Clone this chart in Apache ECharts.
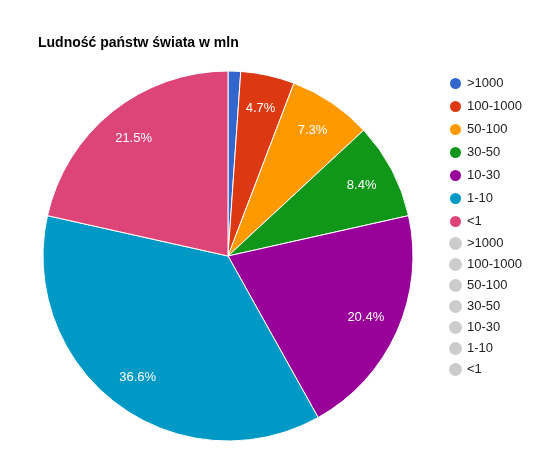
<!DOCTYPE html>
<html>
<head>
<meta charset="utf-8">
<script src="https://cdn.jsdelivr.net/npm/echarts@6/dist/echarts.min.js"></script>
<style>html,body{margin:0;padding:0;background:#fff}#main{width:550px;height:468px}</style>
</head>
<body>
<div id="main"></div>
<script>
var categories = ['>1000', '100-1000', '50-100', '30-50', '10-30', '1-10', '<1']
var values = [1.1, 4.7, 7.3, 8.4, 20.4, 36.6, 21.5]
var colors = ['#3366cc', '#dc3912', '#ff9900', '#109618', '#990099', '#0099c6', '#dd4477']

var data = categories.map(function (c, i) {
  return { name: c, value: values[i] }
})

var chart = echarts.init(document.getElementById('main'))
chart.setOption({
  animation: false,
  color: colors,
  title: {
    text: 'Ludność państw świata w mln',
    left: 33, top: 31,
    textStyle: { fontFamily: 'Arial, Liberation Sans', fontSize: 14, fontWeight: 'bold', color: '#000' }
  },
  legend: {
    orient: 'vertical', left: 443, top: 71,
    icon: 'circle', itemWidth: 13, itemHeight: 13, itemGap: 8,
    textStyle: { fontFamily: 'Arial, Liberation Sans', fontSize: 13, color: '#222' }
  },
  series: [
    {
      type: 'pie', center: [228, 256], radius: 185,
      startAngle: 90, clockwise: true,
      itemStyle: { borderColor: '#fff', borderWidth: 1 },
      label: { show: false }, labelLine: { show: false },
      emphasis: { disabled: true },
      data: data
    },
    {
      // transparent ring just for label placement
      type: 'pie', center: [228, 256], radius: [111, 185],
      startAngle: 90, clockwise: true, silent: true,
      legendHoverLink: false,
      itemStyle: { color: 'rgba(0,0,0,0)' },
      label: {
        show: true, position: 'inside', color: '#fff',
        fontFamily: 'Arial, Liberation Sans', fontSize: 13,
        formatter: function (p) { return p.value < 2 ? '' : p.value.toFixed(1) + '%' }
      },
      labelLine: { show: false },
      data: data.map(function (d) { return { name: d.name + ' ', value: d.value } })
    }
  ]
})
</script>
</body>
</html>
